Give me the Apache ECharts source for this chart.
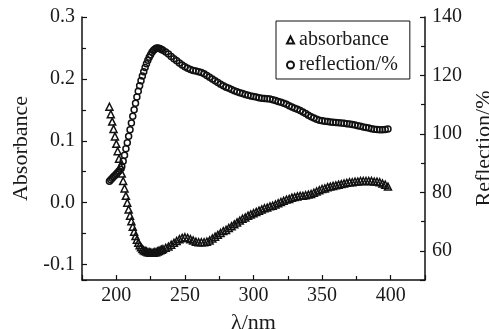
<!DOCTYPE html>
<html><head><meta charset="utf-8">
<script src="https://cdn.jsdelivr.net/npm/echarts@6/dist/echarts.min.js"></script>
<style>html,body{margin:0;padding:0;background:#fff}#c{width:489px;height:329px}</style>
</head><body><div id="c"></div>
<script>
const wavelengths = [195,196,197,198,199,200,201,202,203,204,205,206,207,208,209,210,211,212,213,214,215,216,217,218,219,220,221,222,223,224,225,226,227,228,229,230,231,232,233,234,
236,238,240,242,244,246,248,250,252,254,256,258,260,262,264,266,268,270,
272,274,276,278,280,282,284,286,288,290,292,294,296,298,300,302,304,306,
308,310,312,314,316,318,320,322,324,326,328,330,332,334,336,338,340,342,
344,346,348,350,352,354,356,358,360,362,364,366,368,370,372,374,376,378,
380,382,384,386,388,390,392,394,396,398];
const absorbance = [0.155,0.143,0.131,0.119,0.107,0.095,0.083,0.071,0.059,0.047,0.035,0.023,0.011,0.000,-0.011,-0.021,-0.030,-0.039,-0.047,-0.054,-0.060,-0.065,-0.069,-0.072,-0.075,-0.077,-0.078,-0.079,-0.080,-0.080,-0.081,-0.081,-0.081,-0.080,-0.080,-0.079,-0.078,-0.077,-0.076,-0.075,
-0.073,-0.071,-0.068,-0.065,-0.062,-0.059,-0.057,-0.056,-0.057,-0.059,-0.061,-0.063,-0.064,-0.064,-0.064,-0.063,-0.061,-0.058,
-0.055,-0.052,-0.049,-0.046,-0.044,-0.041,-0.038,-0.035,-0.032,-0.029,-0.026,-0.024,-0.021,-0.019,-0.017,-0.015,-0.013,-0.011,
-0.009,-0.008,-0.006,-0.005,-0.003,-0.001,0.001,0.003,0.005,0.006,0.008,0.009,0.010,0.011,0.011,0.012,0.013,0.014,
0.016,0.018,0.020,0.022,0.023,0.025,0.026,0.027,0.028,0.029,0.030,0.031,0.032,0.033,0.033,0.034,0.034,0.035,
0.035,0.035,0.035,0.035,0.034,0.034,0.033,0.031,0.029,0.026];
const reflection = [83.8,84.3,84.8,85.3,85.8,86.3,86.8,87.3,87.9,88.8,90.6,92.7,94.9,97.0,99.2,101.4,103.7,106.0,108.3,110.5,112.6,114.6,116.5,118.2,119.8,121.3,122.7,124.0,125.2,126.2,127.1,127.9,128.5,129.0,129.3,129.4,129.3,129.1,128.9,128.6,
128.0,127.3,126.5,125.7,125.0,124.3,123.6,123.0,122.5,122.0,121.7,121.5,121.3,121.0,120.6,120.0,119.4,118.8,
118.2,117.6,117.0,116.5,116.0,115.6,115.2,114.8,114.4,114.1,113.8,113.5,113.2,113.0,112.8,112.6,112.4,112.2,
112.1,112.0,111.9,111.7,111.4,111.1,110.8,110.5,110.1,109.6,109.2,108.8,108.4,108.0,107.5,107.0,106.4,105.9,
105.4,105.0,104.7,104.5,104.3,104.2,104.1,104.0,103.9,103.8,103.7,103.6,103.5,103.4,103.2,103.0,102.8,102.6,
102.4,102.2,102.0,101.8,101.6,101.5,101.4,101.4,101.5,101.7];

const FONT = "'Liberation Serif', 'DejaVu Serif', serif";
const TXT = '#1a1a1a';
const absData = wavelengths.map((w, i) => [w, absorbance[i]]);
const refData = wavelengths.map((w, i) => [w, reflection[i]]);

const axisCommon = {
  axisLine: { show: true, onZero: false, lineStyle: { color: '#111', width: 1.5 } },
  axisTick: { show: true, inside: true, length: 5, lineStyle: { color: '#111', width: 1.2 } },
  minorTick: { show: true, splitNumber: 2, length: 4, lineStyle: { color: '#111', width: 1.2 } },
  splitLine: { show: false },
  minorSplitLine: { show: false },
  nameTextStyle: { fontFamily: FONT, fontSize: 22, color: TXT }
};

const chart = echarts.init(document.getElementById('c'), null, { renderer: 'canvas' });
chart.setOption({
  backgroundColor: '#fff',
  animation: false,
  grid: { left: 82, right: 64, top: 17, bottom: 49, containLabel: false, outerBoundsMode: 'none' },
  legend: {
    orient: 'vertical', left: 276, top: 21,
    padding: [9, 12, 4, 10],
    borderColor: '#111', borderWidth: 1,
    itemWidth: 7, itemHeight: 7, itemGap: 5,
    textStyle: { fontFamily: FONT, fontSize: 20, color: TXT, lineHeight: 18 },
    data: ['absorbance', 'reflection/%']
  },
  xAxis: Object.assign({}, axisCommon, {
    type: 'value', min: 175, max: 425, splitNumber: 5,
    name: 'λ/nm', nameLocation: 'middle', nameGap: 32,
    axisLabel: { fontFamily: FONT, fontSize: 20, color: TXT, margin: 6, showMinLabel: false, showMaxLabel: false,
      formatter: v => (v % 50 === 0 ? String(v) : '') }
  }),
  yAxis: [
    Object.assign({}, axisCommon, {
      type: 'value', min: -0.125, max: 0.3, splitNumber: 4, position: 'left',
      name: 'Absorbance', nameLocation: 'middle', nameGap: 34, nameRotate: 90,
      axisLabel: { fontFamily: FONT, fontSize: 20, color: TXT, margin: 7, showMinLabel: false,
        formatter: v => (Math.abs(v * 10 - Math.round(v * 10)) < 1e-6 ? v.toFixed(1) : '') }
    }),
    Object.assign({}, axisCommon, {
      type: 'value', min: 50, max: 140, splitNumber: 5, position: 'right',
      name: 'Reflection/%', nameLocation: 'middle', nameGap: 44, nameRotate: 90,
      axisLabel: { fontFamily: FONT, fontSize: 20, color: TXT, margin: 7, showMinLabel: false,
        formatter: v => (v % 20 === 0 ? String(v) : '') }
    })
  ],
  series: [
    {
      name: 'absorbance', type: 'scatter', xAxisIndex: 0, yAxisIndex: 0,
      symbol: 'triangle', symbolSize: 7,
      itemStyle: { color: 'rgba(0,0,0,0)', borderColor: '#111', borderWidth: 1.5, opacity: 1 },
      emphasis: { disabled: true },
      data: absData
    },
    {
      name: 'reflection/%', type: 'scatter', xAxisIndex: 0, yAxisIndex: 1,
      symbol: 'circle', symbolSize: 6,
      itemStyle: { color: 'rgba(0,0,0,0)', borderColor: '#111', borderWidth: 1.5, opacity: 1 },
      emphasis: { disabled: true },
      data: refData
    }
  ]
});
</script>
</body></html>
